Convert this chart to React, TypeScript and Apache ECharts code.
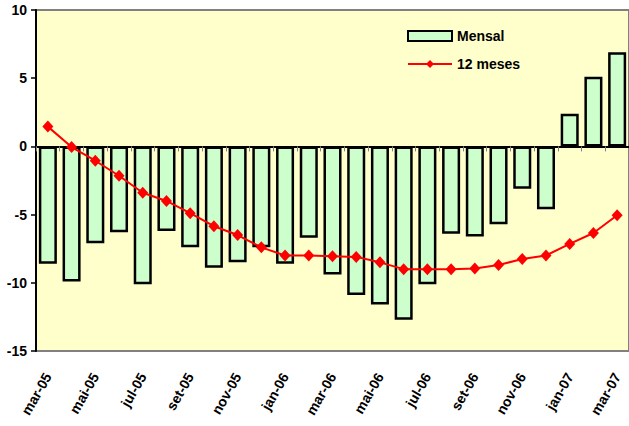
import React, { useEffect, useRef } from "react";
import * as echarts from "echarts";

const categories = [
  "mar-05", "abr-05", "mai-05", "jun-05", "jul-05", "ago-05", "set-05", "out-05", "nov-05", "dez-05",
  "jan-06", "fev-06", "mar-06", "abr-06", "mai-06", "jun-06", "jul-06", "ago-06", "set-06", "out-06",
  "nov-06", "dez-06", "jan-07", "fev-07", "mar-07",
];

const mensal = [
  -8.6, -9.9, -7.1, -6.3, -10.1, -6.2, -7.4, -8.9, -8.5, -7.4,
  -8.6, -6.7, -9.4, -10.9, -11.6, -12.7, -10.1, -6.4, -6.6, -5.7,
  -3.1, -4.6, 2.4, 5.1, 6.9,
];

const dozeMeses = [
  1.45, -0.05, -1.05, -2.15, -3.4, -4.0, -4.9, -5.85, -6.5, -7.4,
  -8.0, -8.0, -8.05, -8.1, -8.5, -9.0, -9.0, -9.0, -8.95, -8.7,
  -8.25, -8.0, -7.15, -6.35, -5.05,
];

const yTicks = { min: -15, max: 10, interval: 5 };

export default function App() {
  const ref = useRef<HTMLDivElement>(null);
  useEffect(() => {
    if (!ref.current) return;
    const chart = echarts.init(ref.current, null, { renderer: "svg" });
    const font = "Arial, 'Liberation Sans', sans-serif";
    chart.setOption({
      animation: false,
      backgroundColor: "#ffffff",
      textStyle: { fontFamily: font },
      grid: {
        left: 36,
        top: 10,
        right: -12,
        bottom: 75,
        show: true,
        backgroundColor: "#FFFFCC",
        borderColor: "#808080",
        borderWidth: 2,
      },
      legend: {
        orient: "vertical",
        left: 407,
        top: 29,
        padding: 0,
        itemWidth: 44,
        itemHeight: 10,
        itemGap: 14,
        textStyle: { fontFamily: font, fontSize: 14, fontWeight: "bold", color: "#000" },
        data: [
          { name: "Mensal", icon: "rect" },
          { name: "12 meses" },
        ],
      },
      xAxis: [
        {
          type: "category",
          data: categories,
          position: "bottom",
          axisLine: { onZero: true, lineStyle: { color: "#000", width: 2 } },
          axisTick: { show: true, length: 5, interval: 0, lineStyle: { color: "#808080", width: 1 } },
          axisLabel: { show: false },
          z: 1,
        },
        {
          type: "category",
          data: categories,
          position: "bottom",
          axisLine: { show: false, onZero: false },
          axisTick: { show: false },
          axisLabel: {
            interval: 1,
            rotate: 60,
            margin: 23,
            fontFamily: font,
            fontSize: 14,
            fontWeight: "bold",
            color: "#000",
          },
        },
      ],
      yAxis: {
        type: "value",
        min: yTicks.min,
        max: yTicks.max,
        interval: yTicks.interval,
        splitLine: { show: false },
        axisLine: { show: true, lineStyle: { color: "#000", width: 2 } },
        axisTick: { show: true, length: 5, lineStyle: { color: "#000", width: 1.5 } },
        axisLabel: { margin: 9, fontFamily: font, fontSize: 14, fontWeight: "bold", color: "#000" },
      },
      series: [
        {
          name: "Mensal",
          type: "bar",
          data: mensal,
          barWidth: "76%",
          itemStyle: { color: "#CCFFCC", borderColor: "#000", borderWidth: 2.5 },
          z: 2,
        },
        {
          name: "12 meses",
          type: "line",
          data: dozeMeses,
          symbol: "diamond",
          symbolSize: [11, 12],
          lineStyle: { color: "#FF0000", width: 2 },
          itemStyle: { color: "#FF0000" },
          z: 3,
        },
      ],
    });
    return () => chart.dispose();
  }, []);
  return (
    <div
      ref={ref}
      style={{ position: "fixed", left: 0, top: 0, width: 629, height: 426 }}
    />
  );
}
